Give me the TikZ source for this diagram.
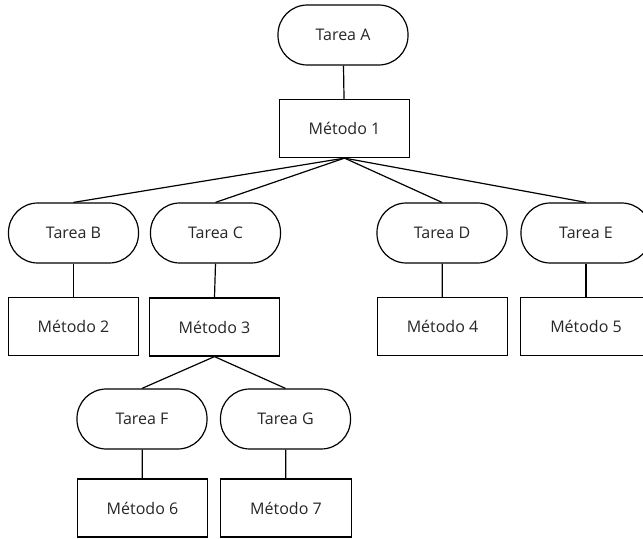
\documentclass[tikz,border=0pt]{standalone}
\usepackage{fontspec}
\setmainfont{Open Sans}
\begin{document}
\begin{tikzpicture}[x=0.75pt,y=-0.75pt,
  every node/.style={font=\fontsize{12}{14}\selectfont, inner sep=0pt, text=black!85},
  tarea/.style={draw, line width=0.9pt, rounded corners=22pt, minimum width=97.5pt, minimum height=45pt},
  metodo/.style={draw, line width=0.9pt, minimum width=98pt, minimum height=43.5pt},
  conn/.style={line width=0.9pt}]
\useasboundingbox (0,0) rectangle (643,539);
\clip (0,0) rectangle (643,539);
\node[tarea] (A) at (343,35) {Tarea A};
\node[metodo] (M1) at (344.5,128.5) {Método 1};
\node[tarea] (B) at (73.5,233) {Tarea B};
\node[tarea] (C) at (215.5,233) {Tarea C};
\node[tarea] (D) at (442,233) {Tarea D};
\node[tarea] (E) at (586,233) {Tarea E};
\node[metodo] (M2) at (73.5,326.5) {Método 2};
\node[metodo] (M3) at (214.5,327) {Método 3};
\node[metodo] (M4) at (442.5,326.5) {Método 4};
\node[metodo] (M5) at (586,326.5) {Método 5};
\node[tarea] (F) at (142,419) {Tarea F};
\node[tarea] (G) at (285.5,419) {Tarea G};
\node[metodo] (M6) at (142.5,508) {Método 6};
\node[metodo] (M7) at (286,508) {Método 7};
\draw[conn] (A) -- (M1);
\foreach \t in {B,C,D,E} \draw[conn] (M1.south) -- (\t.north);
\draw[conn] (B) -- (M2);
\draw[conn] (C.south) -- (M3.north);
\draw[conn] (D) -- (M4);
\draw[conn] (E) -- (M5);
\draw[conn] (M3.south) -- (F.north);
\draw[conn] (M3.south) -- (G.north);
\draw[conn] (F) -- (M6);
\draw[conn] (G) -- (M7);
\end{tikzpicture}
\end{document}
